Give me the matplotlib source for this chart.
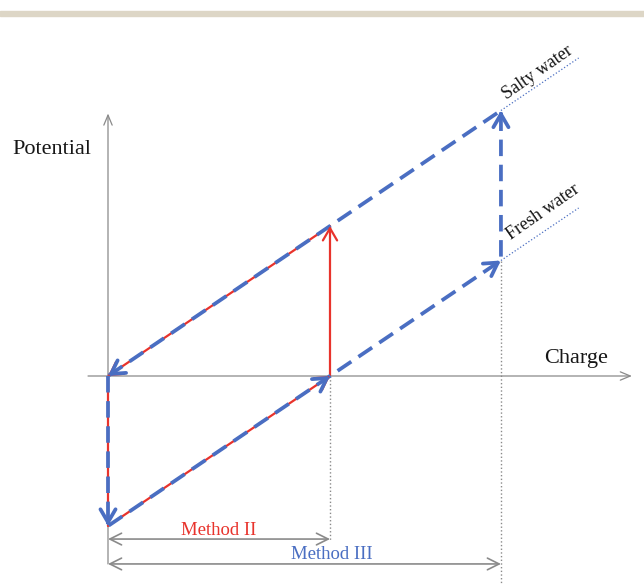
import numpy as np
import matplotlib
matplotlib.use("Agg")
import matplotlib.pyplot as plt
from matplotlib.patches import Rectangle

# schematic charge / potential values (arbitrary units)
q_method2 = 1.0        # charge swept with Method II
q_method3 = 1.77       # charge swept with Method III
dv = 1.0               # potential jump when water is switched

# red cycle (Method II): O -> C -> A -> B -> O
red_q = [0, 0, q_method2, q_method2, 0]
red_v = [0, -dv, 0, dv, 0]

# blue cycle (Method III): O -> C -> A -> D -> E -> O
blue_q = [0, 0, q_method2, q_method3, q_method3, 0]
blue_v = [0, -dv, 0, q_method3 - dv, q_method3, 0]

# dotted continuation of the two branches
branch_q = [q_method3, 2.12]
salty_v = [q_method3, 2.12]
fresh_v = [q_method3 - dv, 2.12 - dv]

axis_gray = "#8a8a8a"
red = "#e8332c"
blue = "#4a6ec2"
serif = ["Liberation Serif", "DejaVu Serif"]

fig = plt.figure(figsize=(6.44, 5.85), dpi=100)
fig.patches.append(Rectangle((0, 1 - 16 / 585), 1, 5 / 585, transform=fig.transFigure,
                             color="#ddd6c6", zorder=0))
ax = fig.add_axes([0, 0, 1, 1])
ax.set_xlim(-108 / 222, (644 - 108) / 222)
ax.set_ylim(-(585 - 376) / 150, 376 / 150)
ax.axis("off")


def head(p0, p1, color, lw, ms):
    # short solid piece at the end of p0->p1 that carries an open chevron
    a = ax.transData.transform(p0)
    b = ax.transData.transform(p1)
    u = (b - a) / np.hypot(*(b - a))
    ax.annotate("", xy=p1, xycoords="data", xytext=(-u[0] * 4, -u[1] * 4),
                textcoords="offset points",
                arrowprops=dict(arrowstyle="->,head_length=0.55,head_width=0.32",
                                color=color, lw=lw, shrinkA=0, shrinkB=0,
                                mutation_scale=ms), zorder=5)


# axes
ax.annotate("", xy=(2.36, 0), xytext=(-0.09, 0),
            arrowprops=dict(arrowstyle="->,head_length=0.6,head_width=0.25", color=axis_gray,
                            lw=0.9, shrinkA=0, shrinkB=0, mutation_scale=12))
ax.annotate("", xy=(0, 1.75), xytext=(0, -1.253),
            arrowprops=dict(arrowstyle="->,head_length=0.6,head_width=0.25", color=axis_gray,
                            lw=0.9, shrinkA=0, shrinkB=0, mutation_scale=12))

# dotted guide lines
ax.plot([q_method2, q_method2], [0, -1.1], ls=":", color=axis_gray, lw=1)
ax.plot([q_method3, q_method3], [q_method3 - dv, -1.4], ls=":", color=axis_gray, lw=1)

# Method width arrows
ax.annotate("", xy=(q_method2, -1.087), xytext=(0, -1.087),
            arrowprops=dict(arrowstyle="<->,head_length=0.6,head_width=0.3", color=axis_gray,
                            lw=1.2, shrinkA=0, shrinkB=0, mutation_scale=14))
ax.annotate("", xy=(q_method3, -1.253), xytext=(0, -1.253),
            arrowprops=dict(arrowstyle="<->,head_length=0.6,head_width=0.3", color=axis_gray,
                            lw=1.2, shrinkA=0, shrinkB=0, mutation_scale=14))

# red cycle
ax.plot(red_q, red_v, color=red, lw=1.6, zorder=3, solid_capstyle="butt")
for i in range(1, len(red_q) - 1):
    head((red_q[i], red_v[i]), (red_q[i + 1], red_v[i + 1]), red, 1.6, 16)

# blue dashed cycle
ax.plot(blue_q, blue_v, color=blue, lw=2.7, dashes=(4.4, 2.3), zorder=4)
for i in range(len(blue_q) - 1):
    head((blue_q[i], blue_v[i]), (blue_q[i + 1], blue_v[i + 1]), blue, 2.7, 17)

# dotted branch continuations
ax.plot(branch_q, salty_v, color=blue, lw=0.9, ls=":")
ax.plot(branch_q, fresh_v, color=blue, lw=0.9, ls=":")

# labels
ink = "#161616"
ax.text(-0.432, 1.507, "Potential", fontsize=16, family=serif, color=ink, ha="left", va="center")
ax.text((576 - 108) / 222, (376 - 358) / 150, "Charge", fontsize=16, family=serif, color=ink,
        ha="center", va="center")
ax.text(0.5 * q_method2, -1.03, "Method II", fontsize=13.5, family=serif, color=red,
        ha="center", va="center")
ax.text((332 - 108) / 222, -1.193, "Method III", fontsize=13.5, family=serif, color=blue,
        ha="center", va="center")
ax.text((538 - 108) / 222, (376 - 73) / 150, "Salty water", fontsize=13, family=serif, color=ink,
        rotation=35, ha="center", va="center", rotation_mode="anchor")
ax.text((543 - 108) / 222, (376 - 212) / 150, "Fresh water", fontsize=13, family=serif, color=ink,
        rotation=35, ha="center", va="center", rotation_mode="anchor")

fig.savefig("out.png", dpi=100)
